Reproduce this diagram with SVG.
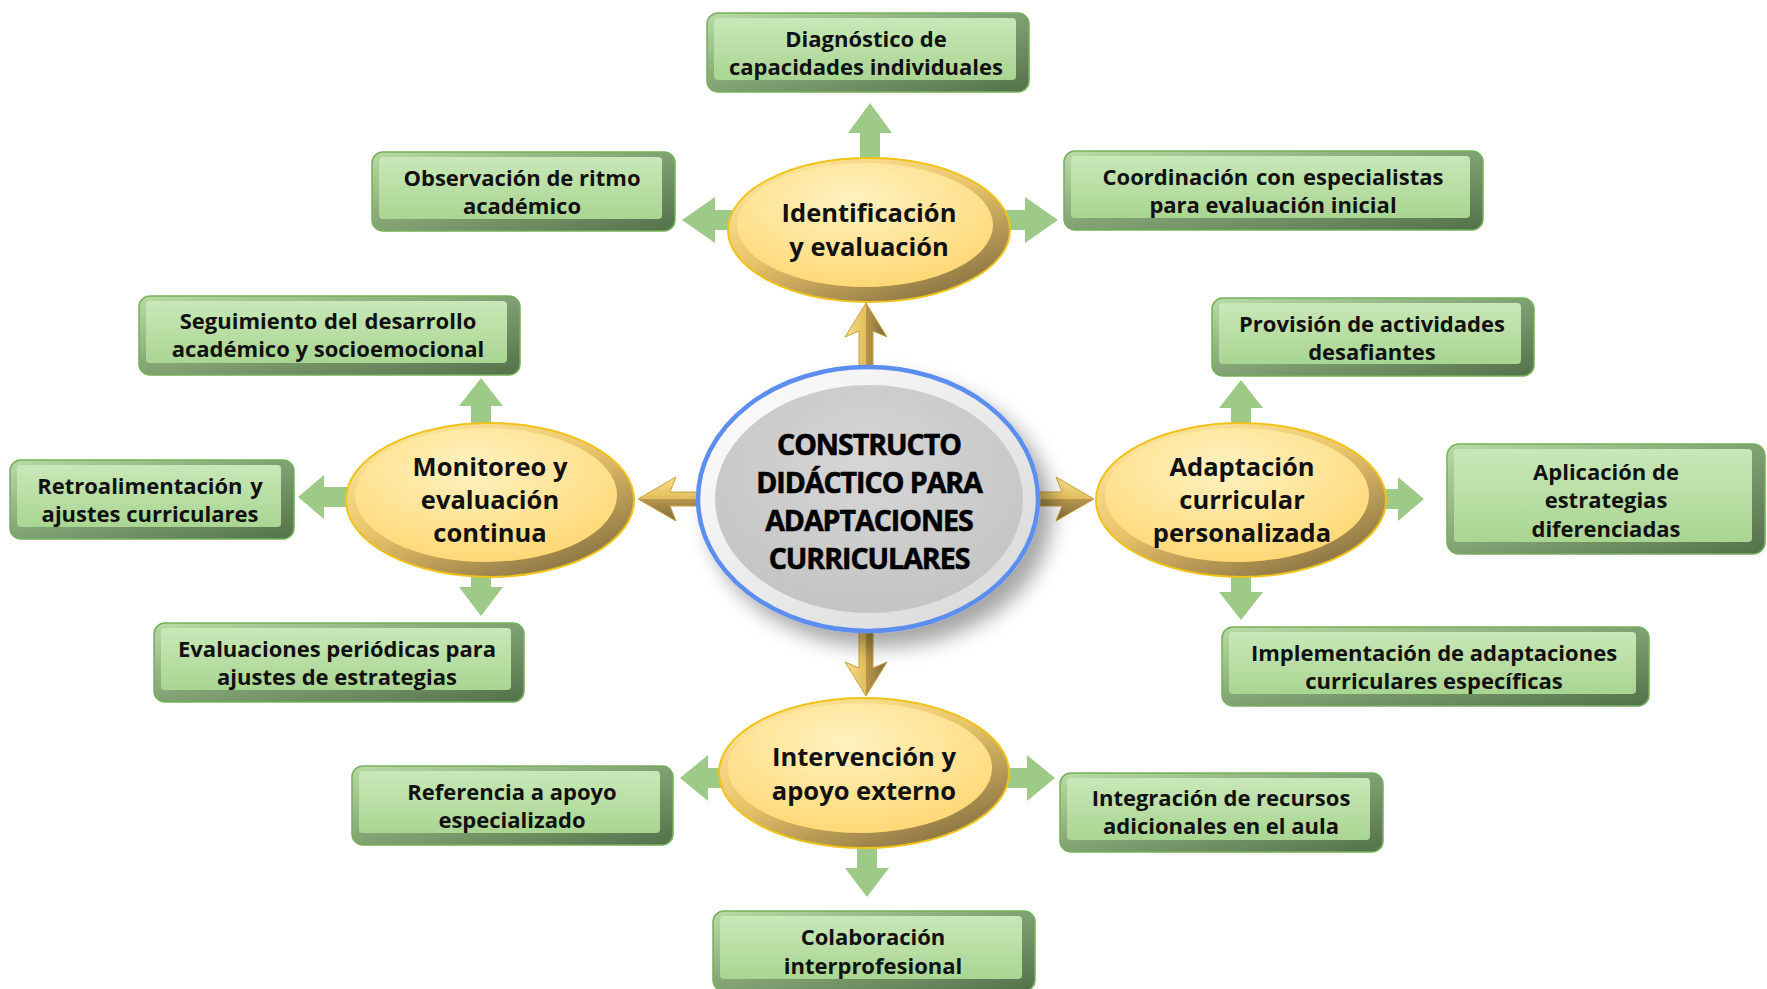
<svg xmlns="http://www.w3.org/2000/svg" width="1767" height="989" viewBox="0 0 1767 989">
<defs>
<linearGradient id="boxEdge" x1="0" y1="0" x2="1" y2="1">
<stop offset="0" stop-color="#b9dca5"/>
<stop offset="0.45" stop-color="#85a777"/>
<stop offset="1" stop-color="#53714a"/>
</linearGradient>
<linearGradient id="boxFace" x1="0" y1="0" x2="0" y2="1">
<stop offset="0" stop-color="#c9e8b8"/>
<stop offset="1" stop-color="#a9d592"/>
</linearGradient>
<linearGradient id="goldRim" x1="0.15" y1="0" x2="0.85" y2="1">
<stop offset="0" stop-color="#ffe9a0"/>
<stop offset="0.45" stop-color="#e9c46a"/>
<stop offset="1" stop-color="#7f6a3e"/>
</linearGradient>
<radialGradient id="goldFace" cx="0.45" cy="0.3" r="0.7">
<stop offset="0" stop-color="#fff1c0"/>
<stop offset="0.6" stop-color="#ffe394"/>
<stop offset="1" stop-color="#ffd876"/>
</radialGradient>
<linearGradient id="centerRim" x1="0" y1="0" x2="1" y2="1">
<stop offset="0" stop-color="#ffffff"/>
<stop offset="1" stop-color="#d6d6d6"/>
</linearGradient>
<radialGradient id="centerFace" cx="0.5" cy="0.35" r="0.65">
<stop offset="0" stop-color="#d6d6d6"/>
<stop offset="1" stop-color="#c4c4c4"/>
</radialGradient>
<linearGradient id="goldH" x1="0" y1="0" x2="0" y2="1">
<stop offset="0" stop-color="#f9df8a"/>
<stop offset="0.5" stop-color="#e2bd5c"/>
<stop offset="0.5" stop-color="#b8964c"/>
<stop offset="1" stop-color="#7f6a3c"/>
</linearGradient>
<linearGradient id="goldV" x1="0" y1="0" x2="1" y2="0">
<stop offset="0" stop-color="#f9df8a"/>
<stop offset="0.5" stop-color="#e2bd5c"/>
<stop offset="0.5" stop-color="#b8964c"/>
<stop offset="1" stop-color="#7f6a3c"/>
</linearGradient>
<filter id="shadow" x="-30%" y="-30%" width="160%" height="160%">
<feDropShadow dx="12" dy="14" stdDeviation="10" flood-color="#000" flood-opacity="0.35"/>
</filter>
</defs>
<style>
.edge{fill:url(#boxEdge);stroke:#74b05a;stroke-width:1.5}
.face{fill:url(#boxFace)}
.bt{font-family:"Open Sans","Noto Sans","Liberation Sans",sans-serif;font-weight:700;font-size:22px;fill:#111;text-anchor:middle}
.et{font-family:"Open Sans","Noto Sans","Liberation Sans",sans-serif;font-weight:700;font-size:25.5px;fill:#111;text-anchor:middle}
.ct{font-family:"Open Sans","Noto Sans","Liberation Sans",sans-serif;font-weight:700;font-size:28.5px;fill:#000;text-anchor:middle;letter-spacing:-1px;stroke:#000;stroke-width:0.6}
.rim{fill:url(#goldRim);stroke:#f0c21a;stroke-width:2}
.gface{fill:url(#goldFace)}
.ga{fill:#9dcb87}
.gh{fill:url(#goldH);stroke:#c9a23c;stroke-width:1}
.gv{fill:url(#goldV);stroke:#c9a23c;stroke-width:1}
</style>
<rect width="1767" height="989" fill="#ffffff"/>

<g id="connectors">
<path class="ga" d="M870,103 L892,133 L880,133 L880,165 L860,165 L860,133 L848,133 Z"/>
<path class="ga" d="M682,220 L715,197 L715,210 L745,210 L745,230 L715,230 L715,243 Z"/>
<path class="ga" d="M1058,220 L1025,197 L1025,210 L995,210 L995,230 L1025,230 L1025,243 Z"/>
<path class="ga" d="M481,378 L503,406 L491,406 L491,432 L471,432 L471,406 L459,406 Z"/>
<path class="ga" d="M298,497 L324,475 L324,487 L355,487 L355,507 L324,507 L324,519 Z"/>
<path class="ga" d="M481,616 L503,587 L491,587 L491,568 L471,568 L471,587 L459,587 Z"/>
<path class="ga" d="M1241,380 L1263,408 L1251,408 L1251,432 L1231,432 L1231,408 L1219,408 Z"/>
<path class="ga" d="M1424,499 L1398,477 L1398,489 L1378,489 L1378,509 L1398,509 L1398,521 Z"/>
<path class="ga" d="M1241,620 L1263,592 L1251,592 L1251,568 L1231,568 L1231,592 L1219,592 Z"/>
<path class="ga" d="M680,778 L708,755 L708,768 L735,768 L735,788 L708,788 L708,801 Z"/>
<path class="ga" d="M1055,778 L1027,755 L1027,768 L995,768 L995,788 L1027,788 L1027,801 Z"/>
<path class="ga" d="M867,897 L889,868 L877,868 L877,840 L857,840 L857,868 L845,868 Z"/>
<path class="gv" d="M866,303 L887,337 L873,331 L873,370 L859,370 L859,331 L845,337 Z"/>
<path class="gv" d="M866,696 L887,662 L873,668 L873,628 L859,628 L859,668 L845,662 Z"/>
<path class="gh" d="M638,499 L676,477 L670,492 L702,492 L702,506 L670,506 L676,521 Z"/>
<path class="gh" d="M1094,499 L1056,477 L1062,492 L1035,492 L1035,506 L1062,506 L1056,521 Z"/>
</g>

<g id="center" filter="url(#shadow)">
<ellipse cx="868" cy="499" rx="170" ry="132" fill="url(#centerRim)" stroke="#5b8ef0" stroke-width="4.5"/>
<ellipse cx="869" cy="499" rx="154" ry="114" fill="url(#centerFace)"/>
</g>
<g id="center-text">
<text class="ct" x="869" y="455">CONSTRUCTO</text>
<text class="ct" x="869" y="493">DIDÁCTICO PARA</text>
<text class="ct" x="869" y="531">ADAPTACIONES</text>
<text class="ct" x="869" y="569">CURRICULARES</text>
</g>

<g id="identificacion">
<ellipse class="rim" cx="869" cy="230" rx="141" ry="72"/>
<ellipse class="gface" cx="865" cy="225" rx="128" ry="62"/>
<text class="et" x="869" y="222">Identificación</text>
<text class="et" x="869" y="256">y evaluación</text>
</g>
<g id="monitoreo">
<ellipse class="rim" cx="490" cy="500" rx="144" ry="77"/>
<ellipse class="gface" cx="486" cy="495" rx="131" ry="67"/>
<text class="et" x="490" y="476">Monitoreo y</text>
<text class="et" x="490" y="509">evaluación</text>
<text class="et" x="490" y="542">continua</text>
</g>
<g id="adaptacion">
<ellipse class="rim" cx="1241" cy="500" rx="145" ry="77"/>
<ellipse class="gface" cx="1237" cy="495" rx="132" ry="67"/>
<text class="et" x="1242" y="476">Adaptación</text>
<text class="et" x="1242" y="509">curricular</text>
<text class="et" x="1242" y="542">personalizada</text>
</g>
<g id="intervencion">
<ellipse class="rim" cx="864" cy="773" rx="145" ry="75"/>
<ellipse class="gface" cx="860" cy="768" rx="132" ry="65"/>
<text class="et" x="864" y="766">Intervención y</text>
<text class="et" x="864" y="800">apoyo externo</text>
</g>

<g id="diagnostico">
<rect class="edge" x="707" y="13" width="322" height="79" rx="11"/>
<rect class="face" x="714" y="18" width="302" height="62" rx="4"/>
<text class="bt" x="866" y="47">Diagnóstico de</text>
<text class="bt" x="866" y="75">capacidades individuales</text>
</g>
<g id="observacion">
<rect class="edge" x="372" y="152" width="303" height="79" rx="11"/>
<rect class="face" x="379" y="157" width="283" height="62" rx="4"/>
<text class="bt" x="522" y="186">Observación de ritmo</text>
<text class="bt" x="522" y="214">académico</text>
</g>
<g id="coordinacion">
<rect class="edge" x="1064" y="151" width="419" height="79" rx="11"/>
<rect class="face" x="1071" y="156" width="399" height="62" rx="4"/>
<text class="bt" x="1273" y="185" word-spacing="2">Coordinación con especialistas</text>
<text class="bt" x="1273" y="213">para evaluación inicial</text>
</g>
<g id="seguimiento">
<rect class="edge" x="139" y="296" width="381" height="79" rx="11"/>
<rect class="face" x="146" y="301" width="361" height="62" rx="4"/>
<text class="bt" x="328" y="329" word-spacing="1">Seguimiento del desarrollo</text>
<text class="bt" x="328" y="357">académico y socioemocional</text>
</g>
<g id="provision">
<rect class="edge" x="1212" y="298" width="322" height="78" rx="11"/>
<rect class="face" x="1219" y="303" width="302" height="61" rx="4"/>
<text class="bt" x="1372" y="332">Provisión de actividades</text>
<text class="bt" x="1372" y="360">desafiantes</text>
</g>
<g id="retroalimentacion">
<rect class="edge" x="10" y="460" width="284" height="79" rx="11"/>
<rect class="face" x="17" y="465" width="264" height="62" rx="4"/>
<text class="bt" x="150" y="494" word-spacing="2">Retroalimentación y</text>
<text class="bt" x="150" y="522">ajustes curriculares</text>
</g>
<g id="aplicacion">
<rect class="edge" x="1447" y="444" width="318" height="110" rx="12"/>
<rect class="face" x="1454" y="449" width="298" height="93" rx="4"/>
<text class="bt" x="1606" y="480">Aplicación de</text>
<text class="bt" x="1606" y="508">estrategias</text>
<text class="bt" x="1606" y="537">diferenciadas</text>
</g>
<g id="evaluaciones">
<rect class="edge" x="154" y="623" width="370" height="79" rx="11"/>
<rect class="face" x="161" y="628" width="350" height="62" rx="4"/>
<text class="bt" x="337" y="657">Evaluaciones periódicas para</text>
<text class="bt" x="337" y="685">ajustes de estrategias</text>
</g>
<g id="implementacion">
<rect class="edge" x="1222" y="627" width="427" height="79" rx="11"/>
<rect class="face" x="1229" y="632" width="407" height="62" rx="4"/>
<text class="bt" x="1434" y="661">Implementación de adaptaciones</text>
<text class="bt" x="1434" y="689">curriculares específicas</text>
</g>
<g id="referencia">
<rect class="edge" x="352" y="766" width="321" height="79" rx="11"/>
<rect class="face" x="359" y="771" width="301" height="62" rx="4"/>
<text class="bt" x="512" y="800">Referencia a apoyo</text>
<text class="bt" x="512" y="828">especializado</text>
</g>
<g id="integracion">
<rect class="edge" x="1060" y="773" width="323" height="79" rx="11"/>
<rect class="face" x="1067" y="778" width="303" height="62" rx="4"/>
<text class="bt" x="1221" y="806">Integración de recursos</text>
<text class="bt" x="1221" y="834">adicionales en el aula</text>
</g>
<g id="colaboracion">
<rect class="edge" x="713" y="911" width="322" height="80" rx="11"/>
<rect class="face" x="720" y="916" width="302" height="63" rx="4"/>
<text class="bt" x="873" y="945">Colaboración</text>
<text class="bt" x="873" y="974">interprofesional</text>
</g>
</svg>
